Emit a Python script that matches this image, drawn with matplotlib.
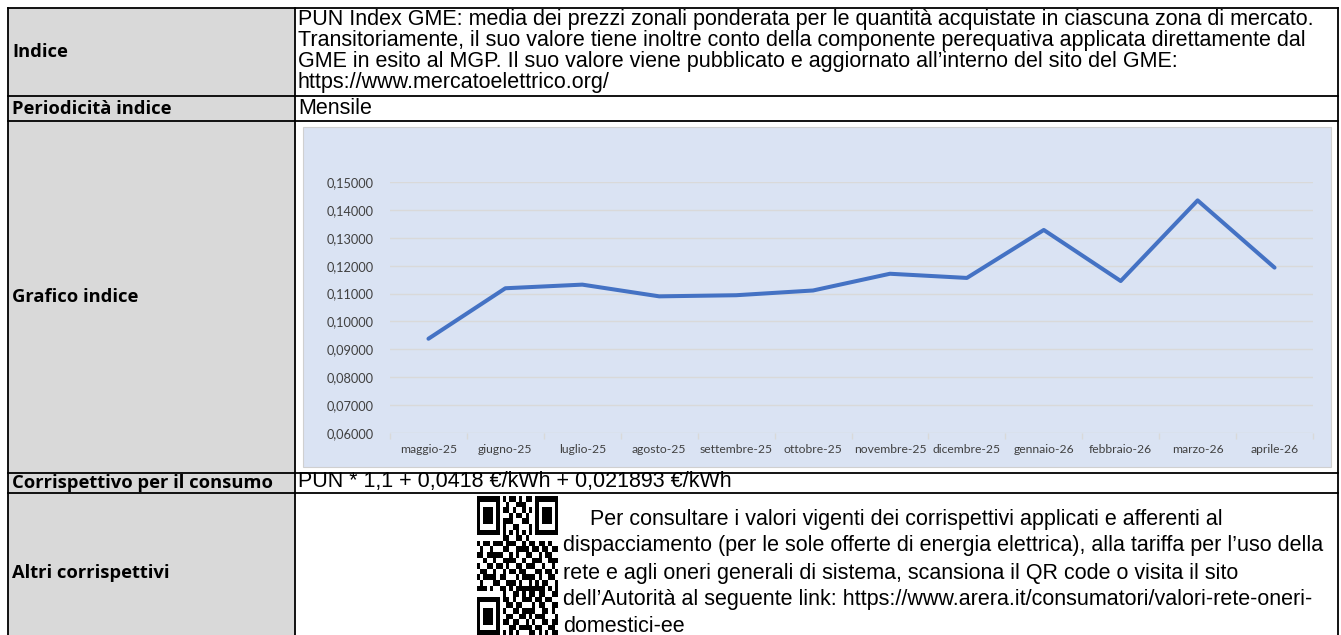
import matplotlib
matplotlib.use("Agg")
import matplotlib.pyplot as plt
from matplotlib.patches import Rectangle
from matplotlib.ticker import FixedLocator, FuncFormatter
import numpy as np

# dati del grafico (PUN mensile, €/kWh)
mesi = ["maggio-25", "giugno-25", "luglio-25", "agosto-25", "settembre-25", "ottobre-25",
        "novembre-25", "dicembre-25", "gennaio-26", "febbraio-26", "marzo-26", "aprile-26"]
pun = [0.0938, 0.1119, 0.1132, 0.1090, 0.1094, 0.1111,
       0.1171, 0.1156, 0.1328, 0.1145, 0.1434, 0.1193]
tick_y = [0.06, 0.07, 0.08, 0.09, 0.10, 0.11, 0.12, 0.13, 0.14, 0.15]

# testi della tabella
etichette = ["Indice", "Periodicità indice", "Grafico indice",
             "Corrispettivo per il consumo", "Altri corrispettivi"]
testo_indice = [
    "PUN Index GME: media dei prezzi zonali ponderata per le quantità acquistate in ciascuna zona di mercato.",
    "Transitoriamente, il suo valore tiene inoltre conto della componente perequativa applicata direttamente dal",
    "GME in esito al MGP. Il suo valore viene pubblicato e aggiornato all\u2019interno del sito del GME:",
    "https://www.mercatoelettrico.org/",
]
testo_periodo = "Mensile"
testo_consumo = "PUN * 1,1 + 0,0418 \u20ac/kWh + 0,021893 \u20ac/kWh"
testo_altri = [
    "Per consultare i valori vigenti dei corrispettivi applicati e afferenti al",
    "dispacciamento (per le sole offerte di energia elettrica), alla tariffa per l\u2019uso della",
    "rete e agli oneri generali di sistema, scansiona il QR code o visita il sito",
    "dell\u2019Autorità al seguente link: https://www.arera.it/consumatori/valori-rete-oneri-",
    "domestici-ee",
]

# QR code (solo decorativo)
QR_ROWS = [
    "1111111010110101101111111",
    "1000001001001110001000001",
    "1011101011010010101011101",
    "1011101000101101001011101",
    "1011101011100011001011101",
    "1000001010011000101000001",
    "1111111010101010101111111",
    "0000000011001101000000000",
    "1011011101110010110110100",
    "0100100011001111011011011",
    "1101111100101001100101100",
    "0010010011110010011100111",
    "1001101101001101110010010",
    "0110010010110110001101101",
    "1011110110001011110100110",
    "0100011001110100101011001",
    "1110100110101111111110101",
    "0000000010011010110110011",
    "1111111011010011101101100",
    "1000001001101100010110011",
    "1011101010011011110011010",
    "1011101001100110101110001",
    "1011101011011001010011011",
    "1000001000110111101100110",
    "1111111010101000110101011",
]

W, H = 1341, 635
fig = plt.figure(figsize=(W / 100, H / 100), dpi=100)
fig.patch.set_facecolor("white")

ax = fig.add_axes([0, 0, 1, 1])
ax.set_xlim(0, W)
ax.set_ylim(H, 0)
ax.axis("off")

x0, xc, x1 = 8, 295, 1338
righe = [8, 96, 121, 473, 493, 640]

# colonna sinistra grigia
ax.add_patch(Rectangle((x0, righe[0]), xc - x0, righe[-1] - righe[0], facecolor="#d9d9d9", edgecolor="none"))

# bordi
for y in righe[:-1]:
    ax.plot([x0, x1], [y, y], color="black", lw=1.3)
for x in [x0, xc, x1]:
    ax.plot([x, x], [righe[0], righe[-1]], color="black", lw=1.3)

# etichette colonna sinistra
for i, lab in enumerate(etichette):
    ym = (righe[i] + min(righe[i + 1], H)) / 2 + (9 if i == 4 else 0)
    ax.text(12, ym, lab, fontsize=13.2, fontweight="bold", family="Open Sans", va="center", ha="left")

# testi colonna destra
fs = 15.5
for k, riga in enumerate(testo_indice):
    ax.text(298, 19 + k * 21.3, riga, fontsize=fs, family="Liberation Sans", va="center", ha="left")
ax.text(298, 108, testo_periodo, fontsize=fs, family="Liberation Sans", va="center", ha="left")
ax.text(298, 482, testo_consumo, fontsize=fs, family="Liberation Sans", va="center", ha="left")
ax.text(590, 519, testo_altri[0], fontsize=fs, family="Liberation Sans", va="center", ha="left")
for k, riga in enumerate(testo_altri[1:]):
    ax.text(563, 546 + k * 27, riga, fontsize=fs, family="Liberation Sans", va="center", ha="left")

# QR
qr = np.array([[int(c) for c in r] for r in QR_ROWS])
ax.imshow(1 - qr, cmap="gray", extent=(477, 558, 636, 496), aspect="auto", interpolation="nearest", zorder=3)

# area del grafico
ax.add_patch(Rectangle((303, 127), 1028, 340, facecolor="#dae3f3", edgecolor="#d0d0d0", lw=0.8))

# grafico
px_l, px_r, py_t, py_b = 390, 1313, 182, 433
gax = fig.add_axes([px_l / W, (H - py_b) / H, (px_r - px_l) / W, (py_b - py_t) / H])
gax.set_facecolor("none")
xs = np.arange(len(mesi))
gax.plot(xs, pun, color="#4472c4", lw=2.9, solid_joinstyle="round", solid_capstyle="round", clip_on=False, zorder=3)
gax.set_xlim(-0.5, len(mesi) - 0.5)
gax.set_ylim(tick_y[0], tick_y[-1])
gax.set_yticks(tick_y)
gax.yaxis.set_major_formatter(FuncFormatter(lambda v, p: f"{v:.5f}".replace(".", ",")))
gax.grid(axis="y", color="#d9d9d9", lw=1)
gax.set_axisbelow(True)
for s in gax.spines.values():
    s.set_visible(False)
gax.set_xticks(xs)
gax.set_xticklabels(mesi)
gax.xaxis.set_minor_locator(FixedLocator(np.arange(-0.5, len(mesi), 1.0)))
gax.tick_params(axis="x", which="major", length=0, pad=8, labelsize=8.7, labelcolor="#404040")
gax.tick_params(axis="x", which="minor", length=4, color="#d9d9d9", width=1)
gax.tick_params(axis="y", length=0, pad=12, labelsize=9.2, labelcolor="#404040")
for t in gax.get_xticklabels() + gax.get_yticklabels():
    t.set_family("Lato")

fig.savefig("out.png", dpi=100)
